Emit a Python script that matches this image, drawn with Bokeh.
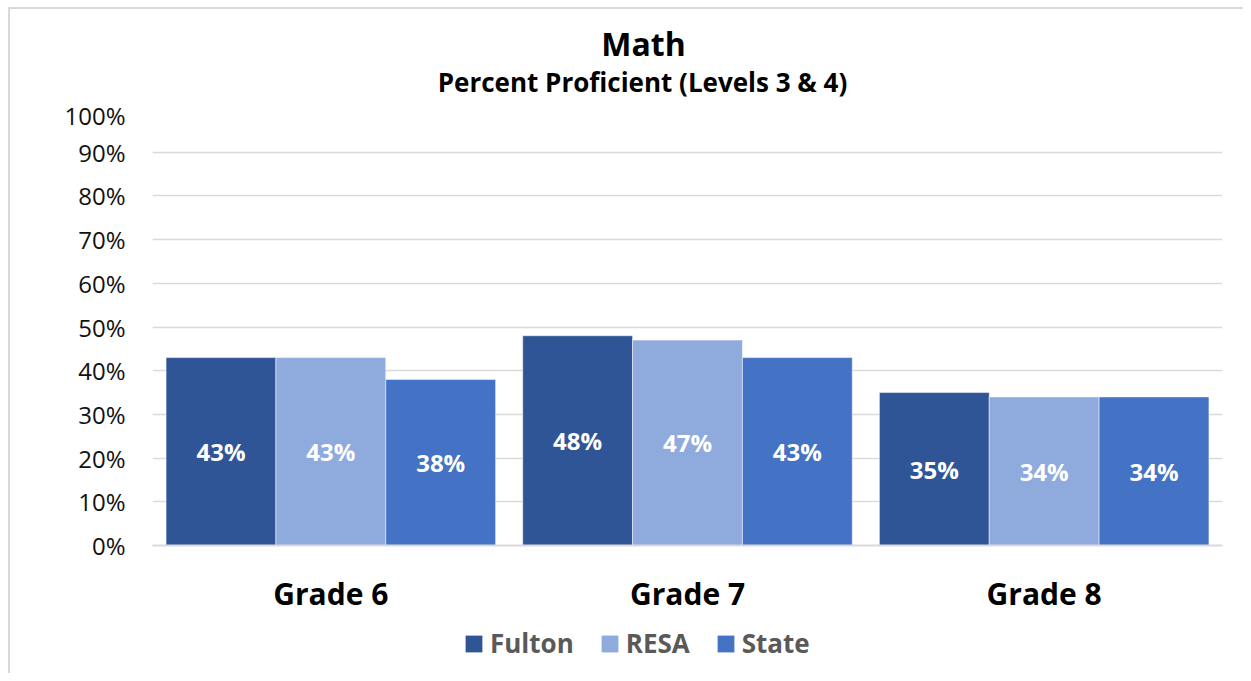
from bokeh.plotting import figure
from bokeh.layouts import column
from bokeh.models import (FactorRange, Range1d, FixedTicker, NumeralTickFormatter,
                          Legend, LegendItem, Label, ColumnDataSource)
from bokeh.transform import dodge
from bokeh.core.properties import value
from bokeh.embed import file_html
from bokeh.resources import INLINE

title = "Math"
subtitle = "Percent Proficient (Levels 3 & 4)"
grades = ["Grade 6", "Grade 7", "Grade 8"]
series = ["Fulton", "RESA", "State"]
fulton = [0.43, 0.48, 0.35]
resa = [0.43, 0.47, 0.34]
state = [0.38, 0.43, 0.34]
colors = ["#2F5597", "#8FAADC", "#4472C4"]
y_ticks = [i / 10 for i in range(11)]

FONT = "Open Sans"
W = 1243


def strip(height, x_range):
    f = figure(width=W, height=height, x_range=x_range, y_range=Range1d(0, 1),
               x_axis_type=None, y_axis_type=None, output_backend="svg",
               toolbar_location=None, min_border=0)
    f.min_border_left, f.min_border_right = 152, 21
    f.min_border_top = f.min_border_bottom = 0
    f.outline_line_color = None
    f.grid.grid_line_color = None
    f.border_fill_color = None
    f.background_fill_color = None
    return f


data = {"grade": grades}
for name, vals in zip(series, [fulton, resa, state]):
    data[name] = vals
    data["mid_" + name] = [v / 2 for v in vals]
    data["lbl_" + name] = ["%d%%" % round(v * 100) for v in vals]
src = ColumnDataSource(data)

# ---- title strip (its frame is aligned with the chart frame: left edge at x=152)
head = strip(98, Range1d(0, 1))
head.add_layout(Label(x=491, y=55, x_units="screen", y_units="screen", text=title,
                      text_font=FONT, text_font_size="32px", text_font_style="bold",
                      text_color="#000000", text_align="center", text_baseline="middle"))
head.add_layout(Label(x=490, y=17, x_units="screen", y_units="screen", text=subtitle,
                      text_font=FONT, text_font_size="26px", text_font_style="bold",
                      text_color="#000000", text_align="center", text_baseline="middle"))

# ---- main chart
p = figure(x_range=FactorRange(factors=grades), y_range=Range1d(0, 1),
           width=W, height=520, output_backend="svg", toolbar_location=None,
           min_border_left=152, min_border_right=21, min_border_top=10,
           min_border_bottom=73)
p.border_fill_color = None
p.background_fill_color = None

bw = 0.308
offsets = [-bw, 0, bw]
for name, c, off in zip(series, colors, offsets):
    p.vbar(x=dodge("grade", off, range=p.x_range), top=name, width=bw, source=src,
           fill_color=c, line_color="white", line_alpha=0.5, line_width=1)
    p.text(x=dodge("grade", off, range=p.x_range), y="mid_" + name, text="lbl_" + name,
           source=src, text_color="white", text_font=value(FONT), text_font_size="24px",
           text_font_style="bold", text_align="center", text_baseline="middle")

p.outline_line_color = None
p.xgrid.grid_line_color = None
p.ygrid.grid_line_color = "#d9d9d9"
p.ygrid.grid_line_width = 1.5

p.yaxis.ticker = FixedTicker(ticks=y_ticks)
p.yaxis.formatter = NumeralTickFormatter(format="0%")
p.yaxis.axis_line_color = None
p.yaxis.major_tick_line_color = None
p.yaxis.minor_tick_line_color = None
p.yaxis.major_label_standoff = 21
p.yaxis.major_label_text_font = FONT
p.yaxis.major_label_text_font_size = "24px"
p.yaxis.major_label_text_color = "#111111"

p.xaxis.axis_line_color = "#d9d9d9"
p.xaxis.axis_line_width = 2
p.xaxis.major_tick_line_color = None
p.xaxis.minor_tick_line_color = None
p.xaxis.major_label_standoff = 21
p.xaxis.major_label_text_font = FONT
p.xaxis.major_label_text_font_size = "30px"
p.xaxis.major_label_text_font_style = "bold"
p.xaxis.major_label_text_color = "#000000"

# ---- legend strip: zero-height copies of the series supply the legend swatches
foot = strip(55, FactorRange(factors=grades))
leg_renderers = [foot.vbar(x="grade", top=name, bottom=name, width=0.3, source=src,
                           fill_color=c, line_color=None)
                 for name, c in zip(series, colors)]
legend = Legend(items=[LegendItem(label=n, renderers=[r]) for n, r in zip(series, leg_renderers)],
                orientation="horizontal", location=(311, 12),
                border_line_color=None, background_fill_alpha=0,
                glyph_width=21, glyph_height=21, label_standoff=6, spacing=25,
                padding=0, margin=0, label_text_font=FONT, label_text_font_size="26px",
                label_text_font_style="bold", label_text_color="#595959")
foot.add_layout(legend, "center")

layout = column(head, p, foot, spacing=0)
layout.styles = {"background": ("linear-gradient(#d9d9d9,#d9d9d9) 8px 7px / 2px 100% no-repeat, "
                                "linear-gradient(#d9d9d9,#d9d9d9) 8px 7px / 100% 2px no-repeat, #ffffff")}

open("out.html", "w").write(file_html(layout, INLINE))
